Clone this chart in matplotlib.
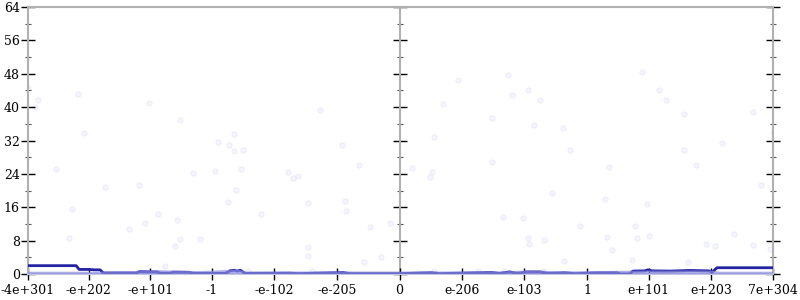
import numpy as np
import matplotlib
matplotlib.use("Agg")
import matplotlib.pyplot as plt
from matplotlib.ticker import MultipleLocator

# sample points: input value, bits of error
pt_x = [-4e301, -5e285, -4e289, -8e219, -6e102, -8e51, -4e209, -2.5e-6, -4e-10,
        -1e255, -4e31, -1e175, -2e119, -6e229, -3e88, -8e108, -6e56, -5e135,
        -5e233, -1e53, -6e19, -4e60, -3e76, -1e-37, -2.5e-29, -1e-36, -3e-51,
        -6e-48, -8e-41, -1e-27, -2.5e-126, -1.6e-134, -1e-142, -1e-177,
        -1.6e-214, -2e-242, -5e-158, -6e-220, -2e-220, -6e-82, -2e-293,
        -5e-261, -5e-158, -4e-159, -2.5e-250, -2.5e-278, -6e-60, -2e-165,
        1e-130, 3e-212, 3e-97, 4e-124, 1.2e-78, 5e-238, 1.6e-157, 1.6e-88,
        8e-41, 1.2e-251, 2.5e-29, 8e-288, 2.5e-156, 1.2e-255, 3e-258, 2e-58,
        6e-139, 1.2e-106, 8e-12, 3e-97, 1.2e-71, 1e-96, 1e-38, 5e89, 1.2e117,
        4e129, 3e272, 1.6e158, 7e304, 4e220, 5e158, 2.5e35, 8e178, 5e285,
        8e28, 2.5e97, 1.6e78, 1e33, 8e81, 1.6e101, 6e240, 1.6e41, 6e194,
        2.5e210, 1e272, 8e299, 1.6e73, 5e164, 1e-251, 1e-180, 1e-137, 1e-72]
pt_y = [44.5, 41.8, 40.1, 43.2, 40.9, 37.0, 33.9, 24.7, 31.7,
        25.1, 24.1, 20.9, 21.4, 15.5, 14.3, 12.2, 13.0, 10.8,
        8.7, 8.5, 8.5, 6.6, 1.8, 33.5, 31.0, 29.6, 29.8,
        25.1, 20.2, 17.2, 24.4, 23.0, 23.4, 39.3,
        30.9, 26.2, 16.9, 17.4, 15.0, 14.5, 12.2,
        11.2, 6.5, 4.4, 2.8, 4.0, 0.8, 0.8,
        47.6, 46.5, 44.2, 42.8, 41.8, 40.7, 37.5, 35.7,
        35.1, 32.9, 29.7, 25.5, 26.9, 24.5, 23.2, 19.5,
        13.7, 13.4, 11.4, 8.6, 8.2, 7.1, 3.0, 48.5, 44.2,
        41.8, 38.9, 38.3, 33.8, 31.5, 29.8, 25.7, 26.2, 21.4,
        18.0, 16.7, 11.5, 8.8, 8.6, 9.2, 9.5, 5.7, 7.3,
        6.8, 7.0, 5.9, 3.4, 2.8, 0.8, 0.8, 0.8, 0.8]

# averaged error, output program (dark) and input program (light)
dark_x = [-4e301, -5e222, -6e217, -2.5e201, -1.6e193, -2e183, -2.5e178,
          -1.2e124, -1.6e119, -5e89, -5e84, -2e68, -2.5e63, -1.2e37, -3e30,
          -8e-23, -5e-31, -1.2e-37, -1.6e-42, -2e-47, -1.2e-55, -6e-128,
          -2.5e-144, -1.2e-216, -1.6e-226, 0, 4e-256, 6e-243, 1.6e-157,
          2.5e-144, 6e-128, 8e-115, 5e-100, 1.2e-78, 1.6e-65, 1.2e-37, 4e-21,
          4.5e20, 4e48, 1.2e55, 8e69, 8e74, 4e94, 3e99, 1.2e106, 5e135,
          3e168, 5e199, 5e204, 8e212, 7e304]
dark_y = [2.0, 2.0, 1.1, 1.1, 1.0, 1.0, 0.25,
          0.25, 0.55, 0.5, 0.2, 0.2, 0.45, 0.4, 0.15,
          0.15, 0.8, 0.9, 0.7, 0.9, 0.15, 0.2,
          0.1, 0.35, 0.1, 0.1, 0.3, 0.1, 0.35,
          0.15, 0.5, 0.15, 0.5, 0.5, 0.15, 0.3, 0.1,
          0.3, 0.3, 0.0, 0.05, 0.7, 0.75, 1.0, 0.75, 0.7,
          0.85, 0.75, 0.4, 1.5, 1.5]
light_x = [-4e301, -8e184, -1.6e119, -2.5e86, -4.5e20, -5e-31, -1.6e-42,
           -1.2e-55, 0, 2.5e-144, 5e-100, 1.2e-78, 8e-46, 8e74, 8e184,
           5e204, 6e217, 7e304]
light_y = [0.05, 0.05, 0.2, 0.4, 0.2, 0.5, 0.6,
           0.1, 0.1, 0.1, 0.35, 0.35, 0.1, 0.3, 0.35,
           0.3, 0.05, 0.05]

tick_vals = [-4e301, -1e202, -1e101, -1.0, -1e-102, -1e-205, 0.0,
             1e-206, 1e-103, 1.0, 1e101, 1e203, 7e304]
tick_labels = ["-4e+301", "-e+202", "-e+101", "-1", "-e-102", "-e-205", "0",
               "e-206", "e-103", "1", "e+101", "e+203", "7e+304"]


def ordinal(v):
    # position of a double in the ordered list of all doubles
    a = np.asarray(v, dtype=np.float64)
    b = np.abs(a).view(np.int64).astype(np.float64) / 2.0**52
    return np.sign(a) * b


plt.rcParams['font.family'] = ['DejaVu Serif']
plt.rcParams['font.size'] = 9

fig = plt.figure(figsize=(8, 3), dpi=100)
ax = fig.add_axes([28/800, 26/300, 745/800, 267/300])

ax.scatter(ordinal(pt_x), pt_y, s=14, facecolor='#f4f4fc',
           edgecolor='#ebebf9', linewidth=0.6, zorder=1)
ax.plot(ordinal(dark_x), dark_y, color='#2323a3', lw=2, zorder=3)
ax.plot(ordinal(light_x), light_y, color='#8c8ce0', lw=3, alpha=0.7, zorder=4)

x0, x1 = ordinal(-4e301), ordinal(7e304)
ax.set_xlim(x0, x1)
ax.set_ylim(0, 64)

gray = '#b0b0b0'
for s in ax.spines.values():
    s.set_color(gray)
    s.set_linewidth(1.5)
ax.spines['bottom'].set_color('#c4c4e4')

ax.set_xticks(ordinal(tick_vals))
ax.set_xticklabels(tick_labels)
ax.yaxis.set_major_locator(MultipleLocator(8))
ax.yaxis.set_minor_locator(MultipleLocator(4))
ax.tick_params(axis='x', direction='inout', length=9, width=1, color='black', pad=3)
ax.tick_params(axis='y', which='major', direction='inout', length=10, width=1,
               color='black', pad=1, right=True)
ax.tick_params(axis='y', which='minor', direction='inout', length=5, width=0.8,
               color='#555555', right=True)

# axis through zero
mid = (ordinal(0.0) - x0) / (x1 - x0)
sec = ax.secondary_yaxis(mid)
sec.spines['left'].set_color(gray)
sec.spines['left'].set_linewidth(1.5)
sec.yaxis.set_major_locator(MultipleLocator(8))
sec.yaxis.set_minor_locator(MultipleLocator(4))
sec.tick_params(which='major', direction='inout', length=10, width=1,
                color='black', labelleft=False)
sec.tick_params(which='minor', direction='inout', length=5, width=0.8,
                color='#555555', labelleft=False)

fig.savefig("out.png", dpi=100)
